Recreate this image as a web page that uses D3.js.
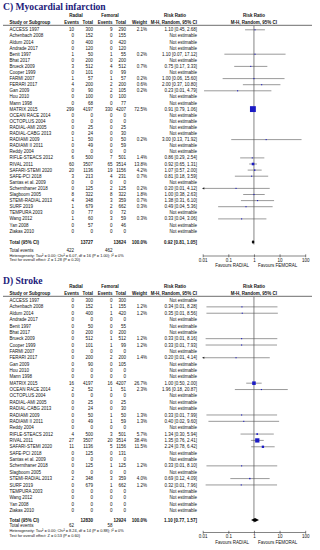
<!DOCTYPE html>
<html><head><meta charset="utf-8">
<script src="https://cdn.jsdelivr.net/npm/d3@7"></script>
<style>body{margin:0;background:#fff}svg{display:block}</style>
</head><body>
<svg id="chart" width="320" height="550"></svg>
<script>
// ---------- shared ----------
const studies = ["ACCESS 1997","Achenbach 2008","Aldum 2014","Andrade 2017","Benit 1997","Bhat 2017","Brueck 2009","Cooper 1999","FARMI 2007","FERARI 2017","Gan 2009","Hou 2010","Mann 1998","MATRIX 2015","OCEAN RACE 2014","OCTOPLUS 2004","RADIAL-AMI 2005","RADIAL-CABG 2013","RADIAMI 2009","RADIAMI II 2011","Reddy 2004","RIFLE-STEACS 2012","RIVAL 2011","SAFARI-STEMI 2020","SAFE-PCI 2018","Santas et al. 2009","Schernthaner 2018","Slagboom 2005","STEMI-RADIAL 2013","SURF 2019","TEMPURA 2003","Wang 2012","Yan 2008","Ziakas 2010"];
const axisTicks = [0.01, 0.1, 1, 10, 100];
const axisTickLabels = ["0.01","0.1","1","10","100"];

// ---------- C) Myocardial infarction ----------
const miRadialEvents  = [10,0,0,0,1,0,3,0,1,4,0,0,0,299,0,0,0,0,1,0,0,6,60,20,3,0,0,8,4,1,0,1,0,0];
const miRadialTotal   = [300,152,400,120,50,200,512,101,57,200,90,100,68,4197,0,0,25,24,50,49,0,500,3507,1136,213,0,125,322,348,679,77,60,57,0];
const miFemoralEvents = [9,0,0,0,1,0,4,0,1,2,2,0,0,330,0,0,0,0,0,0,0,7,65,19,4,0,2,8,3,2,0,3,0,0];
const miFemoralTotal  = [290,155,420,120,55,200,512,99,57,200,105,100,77,4207,0,0,25,30,50,59,0,501,3514,1156,231,0,125,322,359,662,72,59,46,0];
const miWeight = [2.1,null,null,null,0.2,null,0.7,null,0.2,0.6,0.2,null,null,72.5,null,null,null,null,0.2,null,null,1.4,13.8,4.2,0.7,null,0.2,1.8,0.7,0.3,null,0.3,null,null];
const miRR     = [1.10,null,null,null,1.10,null,0.75,null,1.00,2.00,0.23,null,null,0.91,null,null,null,null,3.00,null,null,0.86,0.92,1.07,0.81,null,0.20,1.00,1.38,0.49,null,0.33,null,null];
const miLow    = [0.45,null,null,null,0.07,null,0.17,null,0.06,0.37,0.0113,null,null,0.79,null,null,null,null,0.13,null,null,0.29,0.65,0.57,0.18,null,0.0097,0.38,0.31,0.04,null,0.04,null,null];
const miHigh   = [2.68,null,null,null,17.12,null,3.33,null,15.60,10.80,4.79,null,null,1.06,null,null,null,null,71.92,null,null,2.54,1.31,2.00,3.59,null,4.12,2.63,6.10,5.36,null,3.06,null,null];
const miTotals = {radialTotal:13727, femoralTotal:13624, radialEvents:422, femoralEvents:462, rr:0.92, low:0.81, high:1.05};
const miHet  = "Heterogeneity: Tau² = 0.00; Chi² = 6.07, df = 16 (P = 1.00); I² = 0%";
const miTest = "Test for overall effect: Z = 1.28 (P = 0.20)";

// ---------- D) Stroke ----------
const stRadialEvents  = [0,0,0,0,0,0,0,0,0,0,0,0,0,16,2,0,0,0,0,0,0,4,27,11,0,0,0,0,2,0,0,0,0,0];
const stRadialTotal   = [300,152,400,0,50,200,512,101,0,200,90,0,0,4197,52,0,25,24,50,49,0,500,3507,1136,125,0,125,0,348,679,0,0,0,0];
const stFemoralEvents = [0,1,1,0,0,0,1,1,0,2,0,0,0,16,1,0,0,0,1,1,0,3,20,5,0,0,1,0,3,1,0,0,0,0];
const stFemoralTotal  = [300,155,420,0,55,200,512,99,0,200,105,0,0,4207,51,0,25,30,50,59,0,501,3514,1156,131,0,125,0,359,662,0,0,0,0];
const stWeight = [null,1.2,1.2,null,null,null,1.2,1.2,null,1.4,null,null,null,26.7,2.3,null,null,null,1.3,1.3,null,5.7,38.4,11.5,null,null,1.2,null,4.0,1.2,null,null,null,null];
const stRR     = [null,0.34,0.35,null,null,null,0.33,0.33,null,0.20,null,null,null,1.00,1.96,null,null,null,0.33,0.40,null,1.34,1.35,2.24,null,null,0.33,null,0.69,0.32,null,null,null,null];
const stLow    = [null,0.014,0.014,null,null,null,0.013,0.013,null,0.0097,null,null,null,0.50,0.18,null,null,null,0.014,0.0167,null,0.30,0.76,0.78,null,null,0.014,null,0.12,0.013,null,null,null,null];
const stHigh   = [null,8.28,8.56,null,null,null,8.16,7.93,null,4.14,null,null,null,2.00,20.87,null,null,null,7.99,9.60,null,5.94,2.41,6.42,null,null,8.10,null,4.09,7.96,null,null,null,null];
const stTotals = {radialTotal:12830, femoralTotal:12924, radialEvents:62, femoralEvents:58, rr:1.10, low:0.77, high:1.57};
const stHet  = "Heterogeneity: Tau² = 0.00; Chi² = 8.24, df = 14 (P = 0.88); I² = 0%";
const stTest = "Test for overall effect: Z = 0.53 (P = 0.60)";

const svg = d3.select("#chart");
const FONT = "'Liberation Sans', Arial, sans-serif";
const FS = 4.5;
const f2 = d3.format(".2f");
const x = d3.scaleLog().domain([0.01, 100]).range([202.7, 305.2]);

const col = {name:9.5, rEv:74, rTot:93, fEv:112.5, fTot:126, w:147, ci:197};

function txt(g, xx, yy, s, opt={}) {
  return g.append("text").attr("x", xx).attr("y", yy).attr("dy", "0.35em")
    .attr("font-family", FONT).attr("font-size", opt.size || FS)
    .attr("font-weight", opt.bold ? "bold" : "normal")
    .attr("text-anchor", opt.anchor || "start").attr("fill", opt.fill || "#111").text(s);
}

function panel(cfg) {
  const g = svg.append("g");
  const L = cfg.layout;
  g.append("text").attr("x", 3).attr("y", L.titleY).attr("dy", "0.35em")
    .attr("font-family", "'Liberation Serif', 'Times New Roman', serif")
    .attr("font-weight", "bold").attr("font-size", 9.6).attr("fill", "#1c207a").text(cfg.title);
  // headers
  txt(g, 76, L.h1, "Radial", {bold:true, anchor:"middle"});
  txt(g, 110, L.h1, "Femoral", {bold:true, anchor:"middle"});
  txt(g, 175, L.h1, "Risk Ratio", {bold:true, anchor:"middle"});
  txt(g, x(1), L.h1, "Risk Ratio", {bold:true, anchor:"middle"});
  txt(g, col.name, L.h2, "Study or Subgroup", {bold:true});
  txt(g, 79, L.h2, "Events", {bold:true, anchor:"end"});
  txt(g, col.rTot, L.h2, "Total", {bold:true, anchor:"end"});
  txt(g, col.fEv, L.h2, "Events", {bold:true, anchor:"end"});
  txt(g, col.fTot, L.h2, "Total", {bold:true, anchor:"end"});
  txt(g, col.w, L.h2, "Weight", {bold:true, anchor:"end"});
  txt(g, col.ci, L.h2, "M-H, Random, 95% CI", {bold:true, anchor:"end"});
  txt(g, x(1), L.h2, "M-H, Random, 95% CI", {bold:true, anchor:"middle"});
  g.append("line").attr("x1", 3).attr("x2", 312).attr("y1", L.lineY).attr("y2", L.lineY)
    .attr("stroke", "#8a8a8a").attr("stroke-width", 1.2);

  const y = i => L.row0 + i * L.step;
  // line of no effect
  g.append("line").attr("x1", x(1)).attr("x2", x(1)).attr("y1", L.lineY + 0.6).attr("y2", L.totalY + 2.5)
    .attr("stroke", "#333").attr("stroke-width", 0.6);

  studies.forEach((s, i) => {
    const yy = y(i);
    txt(g, col.name, yy, s);
    txt(g, col.rEv, yy, cfg.rEv[i], {anchor:"end"});
    txt(g, col.rTot, yy, cfg.rTot[i], {anchor:"end"});
    txt(g, col.fEv, yy, cfg.fEv[i], {anchor:"end"});
    txt(g, col.fTot, yy, cfg.fTot[i], {anchor:"end"});
    if (cfg.rr[i] == null) {
      txt(g, col.ci, yy, "Not estimable", {anchor:"end"});
      return;
    }
    txt(g, col.w, yy, cfg.w[i].toFixed(1) + "%", {anchor:"end"});
    txt(g, col.ci, yy, `${f2(cfg.rr[i])} [${f2(cfg.lo[i])}, ${f2(cfg.hi[i])}]`, {anchor:"end"});
    const clipLo = cfg.lo[i] < 0.01;
    const x1 = x(Math.max(cfg.lo[i], 0.01)), x2 = x(Math.min(cfg.hi[i], 100));
    g.append("line").attr("x1", x1).attr("x2", x2).attr("y1", yy).attr("y2", yy)
      .attr("stroke", "#555").attr("stroke-width", 0.6);
    if (clipLo) {
      g.append("path").attr("d", `M${x1 - 0.6},${yy} l2.2,-1.1 v2.2 z`).attr("fill", "#222");
    }
    const side = Math.max(1.1, 0.69 * Math.sqrt(cfg.w[i]));
    g.append("rect").attr("x", x(cfg.rr[i]) - side / 2).attr("y", yy - side / 2)
      .attr("width", side).attr("height", side).attr("fill", "#1b1bc4");
  });

  // totals
  const T = cfg.totals;
  txt(g, col.name, L.totalY, "Total (95% CI)", {bold:true});
  txt(g, col.rTot, L.totalY, T.radialTotal, {bold:true, anchor:"end"});
  txt(g, col.fTot, L.totalY, T.femoralTotal, {bold:true, anchor:"end"});
  txt(g, col.w, L.totalY, "100.0%", {bold:true, anchor:"end"});
  txt(g, col.ci, L.totalY, `${f2(T.rr)} [${f2(T.low)}, ${f2(T.high)}]`, {bold:true, anchor:"end"});
  const dh = 2.1;
  g.append("path").attr("d", `M${x(T.low)},${L.totalY} L${x(T.rr)},${L.totalY - dh} L${x(T.high)},${L.totalY} L${x(T.rr)},${L.totalY + dh} Z`)
    .attr("fill", "#000");
  txt(g, col.name, L.evY, "Total events");
  txt(g, col.rEv, L.evY, T.radialEvents, {anchor:"end"});
  txt(g, col.fEv, L.evY, T.femoralEvents, {anchor:"end"});
  txt(g, col.name, L.hetY, cfg.het, {size: 3.9});
  txt(g, col.name, L.testY, cfg.test, {size: 3.9});

  // axis
  const ax = g.append("g").attr("transform", `translate(0,${L.axisY})`)
    .call(d3.axisBottom(x).tickValues(axisTicks).tickFormat((d, i) => axisTickLabels[i]).tickSize(1.8).tickSizeOuter(0).tickPadding(1.2));
  ax.select(".domain").attr("stroke", "#333").attr("stroke-width", 0.6);
  ax.selectAll(".tick line").attr("stroke", "#333").attr("stroke-width", 0.6).attr("y1", -1.2);
  ax.selectAll(".tick text").attr("font-family", FONT).attr("font-size", FS).attr("fill", "#111");
  txt(g, x(1) - 5, L.axisY + 10, "Favours RADIAL", {anchor:"end"});
  txt(g, x(1) + 4, L.axisY + 10, "Favours FEMORAL");
}

panel({
  title: "C) Myocardial infarction",
  rEv: miRadialEvents, rTot: miRadialTotal, fEv: miFemoralEvents, fTot: miFemoralTotal,
  w: miWeight, rr: miRR, lo: miLow, hi: miHigh, totals: miTotals, het: miHet, test: miTest,
  layout: {titleY:6.2, h1:15, h2:22.5, lineY:25.3, row0:29.8, step:6.1, totalY:242, evY:250.3, hetY:255.3, testY:260, axisY:255.5}
});
panel({
  title: "D) Stroke",
  rEv: stRadialEvents, rTot: stRadialTotal, fEv: stFemoralEvents, fTot: stFemoralTotal,
  w: stWeight, rr: stRR, lo: stLow, hi: stHigh, totals: stTotals, het: stHet, test: stTest,
  layout: {titleY:280.5, h1:286.5, h2:293.3, lineY:296.3, row0:300.5, step:6.36, totalY:520, evY:525.7, hetY:530.7, testY:535.3, axisY:532}
});
</script>
</body></html>
